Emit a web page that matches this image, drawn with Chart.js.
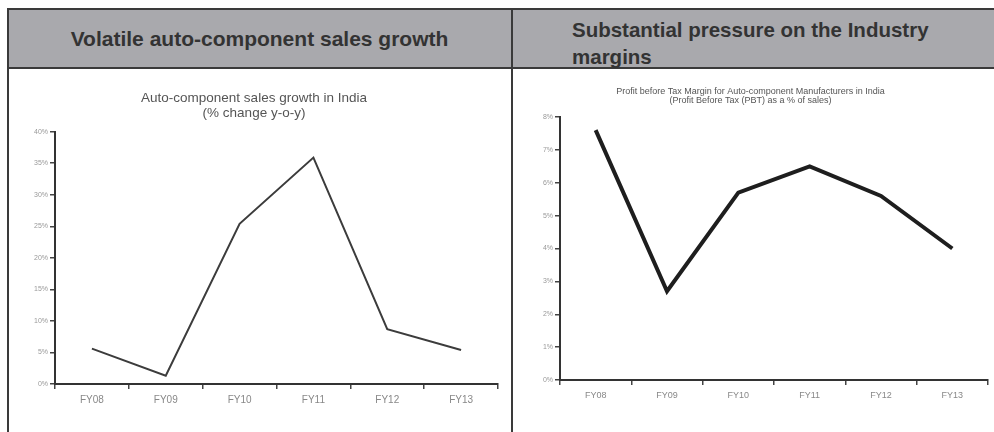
<!DOCTYPE html>
<html>
<head>
<meta charset="utf-8">
<script src="https://cdn.jsdelivr.net/npm/chart.js@4.4.0/dist/chart.umd.min.js"></script>
<style>
  body { margin: 0; background: #fff; font-family: "Liberation Sans", Arial, sans-serif; }
  #page { position: relative; width: 994px; height: 432px; overflow: hidden; }
  .head { position: absolute; top: 8px; height: 57px; background: #a9a9ad;
          border-top: 2px solid #3a3a3a; border-bottom: 2px solid #3a3a3a;
          color: #333; font-weight: bold; }
  #headL { left: 8px; width: 503px; font-size: 21px; line-height: 57px; text-align: center; }
  #headR { left: 513px; width: 481px; font-size: 20.5px; line-height: 27px; }
  #headR span { position: absolute; left: 59px; top: 6px; }
  .vline { position: absolute; top: 8px; bottom: 0; width: 2px; background: #3a3a3a; }
  .box { position: absolute; top: 68px; height: 364px; }
</style>
</head>
<body>
<div id="page">
  <div class="head" id="headL">Volatile auto-component sales growth</div>
  <div class="head" id="headR"><span>Substantial pressure on the Industry<br>margins</span></div>
  <div class="vline" style="left:7px"></div>
  <div class="vline" style="left:511px"></div>
  <div class="box" style="left:10px;width:500px"><canvas id="growthChart" width="500" height="364"></canvas></div>
  <div class="box" style="left:513px;width:480px"><canvas id="marginChart" width="480" height="364"></canvas></div>
</div>
<script>
// fiscal years shared by both charts
var years = ['FY08', 'FY09', 'FY10', 'FY11', 'FY12', 'FY13'];

// sales growth, % change y-o-y
var salesGrowth = [5.6, 1.3, 25.4, 35.9, 8.7, 5.4];
var growthTicks = [0, 5, 10, 15, 20, 25, 30, 35, 40];

// profit before tax as % of sales
var pbtMargin = [7.6, 2.7, 5.7, 6.5, 5.6, 4.0];
var marginTicks = [0, 1, 2, 3, 4, 5, 6, 7, 8];

Chart.defaults.font.family = '"Liberation Sans", Arial, sans-serif';
Chart.defaults.animation = false;

function fixWidth(w) { return function (s) { s.width = w; }; }
function fixHeight(h) { return function (s) { s.height = h; }; }

function lineChart(id, opts) {
  var ctx = document.getElementById(id).getContext('2d');
  return new Chart(ctx, {
    type: 'line',
    data: {
      labels: years,
      datasets: [{
        data: opts.values,
        borderColor: opts.lineColor,
        borderWidth: opts.lineWidth,
        pointRadius: 0,
        tension: 0,
        fill: false
      }]
    },
    options: {
      responsive: false,
      layout: { padding: { left: 0, right: opts.padRight, top: 0, bottom: 0 } },
      plugins: {
        legend: { display: false },
        tooltip: { enabled: false },
        title: {
          display: true,
          text: opts.title,
          color: '#555',
          font: { size: opts.titleSize, weight: 'normal', lineHeight: opts.titleLine },
          padding: opts.titlePad
        }
      },
      scales: {
        x: {
          type: 'category',
          offset: true,
          afterFit: fixHeight(opts.xHeight),
          grid: { offset: true, drawOnChartArea: false, tickLength: 5, color: '#444', lineWidth: 1.5 },
          border: { color: '#333', width: 2 },
          ticks: { color: '#888', font: { size: opts.xFont }, padding: 5 }
        },
        y: {
          min: opts.ticks[0],
          max: opts.ticks[opts.ticks.length - 1],
          afterFit: fixWidth(opts.yWidth),
          afterBuildTicks: function (s) { s.ticks = opts.ticks.map(function (v) { return { value: v }; }); },
          grid: { drawOnChartArea: false, tickLength: 5, color: '#444', lineWidth: 1.5 },
          border: { color: '#333', width: 2 },
          ticks: {
            color: '#999',
            font: { size: 7 },
            padding: 2,
            callback: function (v) { return v + '%'; }
          }
        }
      }
    }
  });
}

lineChart('growthChart', {
  values: salesGrowth,
  ticks: growthTicks,
  lineColor: '#3c3c3c',
  lineWidth: 2,
  title: ['Auto-component sales growth in India', '(% change y-o-y)'],
  titleSize: 13.5,
  titleLine: 1.1,
  titlePad: { top: 23, bottom: 11 },
  xFont: 10,
  xHeight: 48,
  yWidth: 45,
  padRight: 12
});

lineChart('marginChart', {
  values: pbtMargin,
  ticks: marginTicks,
  lineColor: '#1e1e1e',
  lineWidth: 4,
  title: ['Profit before Tax Margin for Auto-component Manufacturers in India', '(Profit Before Tax (PBT) as a % of sales)'],
  titleSize: 9,
  titleLine: 1.0,
  titlePad: { top: 19, bottom: 12 },
  xFont: 9,
  xHeight: 52,
  yWidth: 47,
  padRight: 5
});
</script>
</body>
</html>
